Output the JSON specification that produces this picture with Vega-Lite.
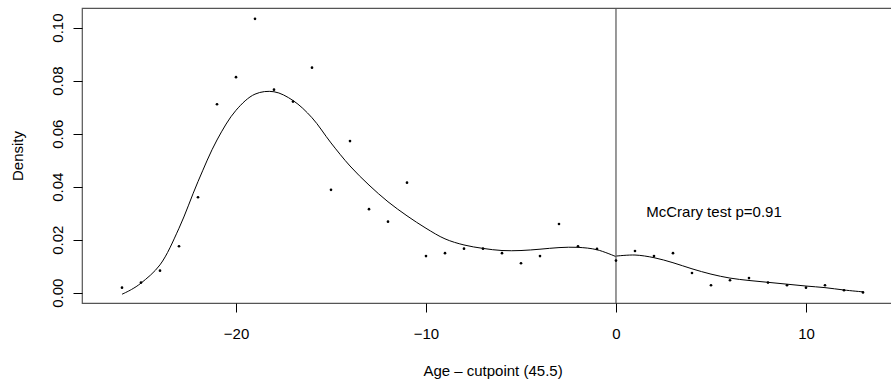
{
  "$schema": "https://vega.github.io/schema/vega-lite/v6.json",
  "autosize": "none",
  "padding": {"left": 82, "top": 8, "right": 0, "bottom": 78},
  "width": 811,
  "height": 295,
  "background": "white",
  "config": {
    "view": {"stroke": "#555", "strokeWidth": 1.2},
    "font": "Liberation Sans",
    "axis": {
      "grid": false,
      "domain": false,
      "tickColor": "#000",
      "tickSize": 9,
      "labelColor": "#000",
      "labelFont": "Liberation Sans",
      "labelFontSize": 15,
      "titleFont": "Liberation Sans",
      "titleFontSize": 15,
      "titleFontWeight": "normal",
      "titleColor": "#000"
    }
  },
  "datasets": {
    "bins": [
      {"x": -26, "y": 0.0019}, {"x": -25, "y": 0.0038}, {"x": -24, "y": 0.0083}, {"x": -23, "y": 0.0175},
      {"x": -22, "y": 0.036}, {"x": -21, "y": 0.0711}, {"x": -20, "y": 0.0813}, {"x": -19, "y": 0.1033},
      {"x": -18, "y": 0.0766}, {"x": -17, "y": 0.0721}, {"x": -16, "y": 0.0849}, {"x": -15, "y": 0.0388},
      {"x": -14, "y": 0.0572}, {"x": -13, "y": 0.0315}, {"x": -12, "y": 0.0268}, {"x": -11, "y": 0.0415},
      {"x": -10, "y": 0.0138}, {"x": -9, "y": 0.0149}, {"x": -8, "y": 0.0166}, {"x": -7, "y": 0.0166},
      {"x": -6, "y": 0.0149}, {"x": -5, "y": 0.0111}, {"x": -4, "y": 0.0138}, {"x": -3, "y": 0.0259},
      {"x": -2, "y": 0.0175}, {"x": -1, "y": 0.0165}, {"x": 0, "y": 0.0121}, {"x": 1, "y": 0.0157},
      {"x": 2, "y": 0.0138}, {"x": 3, "y": 0.0149}, {"x": 4, "y": 0.0074}, {"x": 5, "y": 0.0028},
      {"x": 6, "y": 0.0047}, {"x": 7, "y": 0.0055}, {"x": 8, "y": 0.0038}, {"x": 9, "y": 0.0028},
      {"x": 10, "y": 0.0019}, {"x": 11, "y": 0.0028}, {"x": 12, "y": 0.0009}, {"x": 13, "y": 0.0001}
    ],
    "curve": [
      {"seg": "left", "x": -26, "y": -0.0006}, {"seg": "left", "x": -25.5, "y": 0.0012},
      {"seg": "left", "x": -25, "y": 0.0036}, {"seg": "left", "x": -24, "y": 0.0105},
      {"seg": "left", "x": -23, "y": 0.0243}, {"seg": "left", "x": -22, "y": 0.0419},
      {"seg": "left", "x": -21, "y": 0.0576}, {"seg": "left", "x": -20, "y": 0.0688},
      {"seg": "left", "x": -19, "y": 0.0749}, {"seg": "left", "x": -18, "y": 0.0758},
      {"seg": "left", "x": -17, "y": 0.0725}, {"seg": "left", "x": -16, "y": 0.0660},
      {"seg": "left", "x": -15, "y": 0.0565}, {"seg": "left", "x": -14, "y": 0.0478},
      {"seg": "left", "x": -13, "y": 0.0406}, {"seg": "left", "x": -12, "y": 0.0343},
      {"seg": "left", "x": -11, "y": 0.0290}, {"seg": "left", "x": -10, "y": 0.0243},
      {"seg": "left", "x": -9, "y": 0.0203}, {"seg": "left", "x": -8, "y": 0.0180},
      {"seg": "left", "x": -7, "y": 0.0167}, {"seg": "left", "x": -6, "y": 0.0159},
      {"seg": "left", "x": -5, "y": 0.0159}, {"seg": "left", "x": -4, "y": 0.0164},
      {"seg": "left", "x": -3, "y": 0.0170}, {"seg": "left", "x": -2, "y": 0.0171},
      {"seg": "left", "x": -1, "y": 0.0162}, {"seg": "left", "x": 0, "y": 0.0136},
      {"seg": "right", "x": 0, "y": 0.0138}, {"seg": "right", "x": 1, "y": 0.0142},
      {"seg": "right", "x": 2, "y": 0.0132}, {"seg": "right", "x": 3, "y": 0.0113},
      {"seg": "right", "x": 4, "y": 0.0090}, {"seg": "right", "x": 5, "y": 0.0070},
      {"seg": "right", "x": 6, "y": 0.0055}, {"seg": "right", "x": 7, "y": 0.0046},
      {"seg": "right", "x": 8, "y": 0.0039}, {"seg": "right", "x": 9, "y": 0.0032},
      {"seg": "right", "x": 10, "y": 0.0025}, {"seg": "right", "x": 11, "y": 0.0019},
      {"seg": "right", "x": 12, "y": 0.0010}, {"seg": "right", "x": 13, "y": 0.0003}
    ]
  },
  "layer": [
    {
      "data": {"name": "curve"},
      "mark": {"type": "line", "color": "#000", "strokeWidth": 1, "interpolate": "catmull-rom"},
      "encoding": {
        "x": {
          "field": "x",
          "type": "quantitative",
          "scale": {"domain": [-28.105, 14.58], "nice": false, "zero": false},
          "axis": {
            "values": [-20, -10, 0, 10],
            "format": "d",
            "labelBaseline": "alphabetic",
            "labelPadding": 26,
            "title": "Age – cutpoint (45.5)",
            "titleX": 410.5,
            "titleY": 72,
            "titleBaseline": "alphabetic",
            "titleAlign": "center"
          }
        },
        "y": {
          "field": "y",
          "type": "quantitative",
          "scale": {"domain": [-0.0039, 0.1074], "nice": false, "zero": false},
          "axis": {
            "values": [0, 0.02, 0.04, 0.06, 0.08, 0.1],
            "format": ".2f",
            "labelAngle": -90,
            "labelAlign": "center",
            "labelBaseline": "alphabetic",
            "labelPadding": 11,
            "title": "Density",
            "titleAngle": -90,
            "titleX": -60,
            "titleY": 147.5,
            "titleAlign": "center",
            "titleBaseline": "alphabetic"
          }
        },
        "detail": {"field": "seg"}
      }
    },
    {
      "data": {"values": [{"v": 0}]},
      "mark": {"type": "rule", "color": "#555", "strokeWidth": 1.2},
      "encoding": {
        "x": {"field": "v", "type": "quantitative"}
      }
    },
    {
      "data": {"name": "bins"},
      "mark": {"type": "point", "filled": true, "color": "#000", "size": 7, "opacity": 1},
      "encoding": {
        "x": {"field": "x", "type": "quantitative"},
        "y": {"field": "y", "type": "quantitative"}
      }
    },
    {
      "data": {"values": [{"label": "McCrary test p=0.91"}]},
      "mark": {"type": "text", "font": "Liberation Sans", "fontSize": 15, "align": "center", "baseline": "middle", "color": "#000"},
      "encoding": {
        "text": {"field": "label"},
        "x": {"datum": 5.16, "type": "quantitative"},
        "y": {"datum": 0.0305, "type": "quantitative"}
      }
    }
  ]
}
